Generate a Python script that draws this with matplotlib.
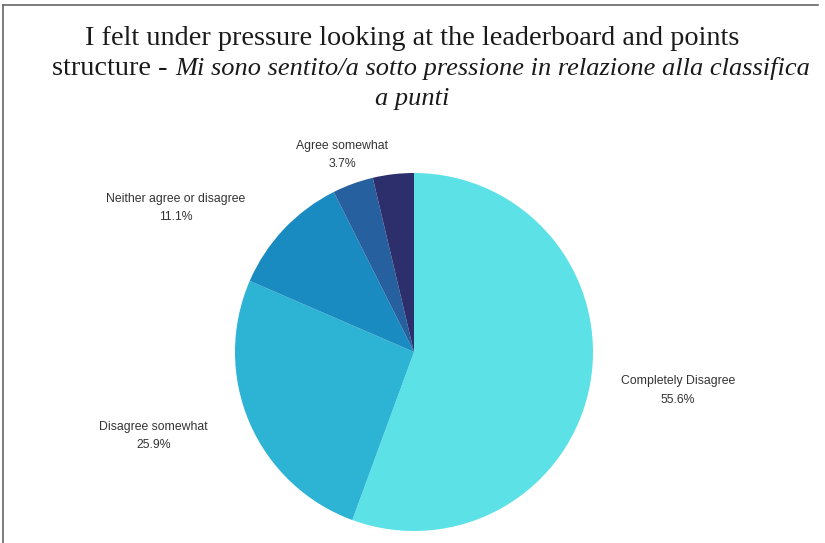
import matplotlib
matplotlib.use("Agg")
import matplotlib.pyplot as plt
from matplotlib.lines import Line2D

# data
categories = ["Completely Disagree", "Disagree somewhat", "Neither agree or disagree",
              "Agree somewhat", "Completely agree"]
shares = [55.6, 25.9, 11.1, 3.7, 3.7]
colors = ["#5ce1e6", "#2db3d4", "#1a8bc0", "#27609f", "#2d2f6c"]
shown = [True, True, True, True, False]   # last slice has no visible label
label_pos = [(1.475, -0.215), (-1.455, -0.47), (-1.33, 0.805), (-0.40, 1.10), (0, 0)]

title_1 = "I felt under pressure looking at the leaderboard and points"
title_2a = "structure - "
title_2b = "Mi sono sentito/a sotto pressione in relazione alla classifica"
title_3 = "a punti"

W, H = 825, 543
fig = plt.figure(figsize=(W / 100, H / 100), dpi=100)

# pie: centre ~ (414, 352) px, radius ~ 179 px
cx, cy, r = 414, 352, 179
ax = fig.add_axes([(cx - r) / W, (H - cy - r) / H, 2 * r / W, 2 * r / H])
ax.pie(shares, colors=colors, startangle=90, counterclock=False, radius=1,
       wedgeprops=dict(linewidth=0))
ax.set_xlim(-1, 1)
ax.set_ylim(-1, 1)
ax.set_aspect("equal")
ax.axis("off")

for name, val, show, (lx, ly) in zip(categories, shares, shown, label_pos):
    if show:
        ax.text(lx, ly, f"{name}\n{val}%", ha="center", va="center", fontsize=8.8,
                family="Liberation Sans", color="#333333", linespacing=1.7,
                clip_on=False)

# title, mixed regular / italic, aligned on baselines
tkw = dict(family="Liberation Serif", color="#1a1a1a", va="baseline")
fig.text(0.5, 1 - 45 / H, title_1, ha="center", fontsize=20.3, **tkw)
fig.text(0.5, 1 - 105 / H, title_3, ha="center", style="italic", fontsize=19, **tkw)
t_a = fig.text(0, 1 - 75 / H, title_2a, ha="left", fontsize=20.3, **tkw)
t_b = fig.text(0, 1 - 75 / H, title_2b, ha="left", style="italic", fontsize=19, **tkw)
fig.canvas.draw()
rend = fig.canvas.get_renderer()
wa = t_a.get_window_extent(rend).width
wb = t_b.get_window_extent(rend).width
x0 = 431 - (wa + wb) / 2
t_a.set_x(x0 / W)
t_b.set_x((x0 + wa) / W)

# screenshot frame: top and left edges
fig.add_artist(Line2D([3 / W, 818 / W], [1 - 5 / H, 1 - 5 / H], color="#666666", lw=1.2))
fig.add_artist(Line2D([3 / W, 3 / W], [0, 1 - 5 / H], color="#666666", lw=1.2))

fig.savefig("out.png", dpi=100)
